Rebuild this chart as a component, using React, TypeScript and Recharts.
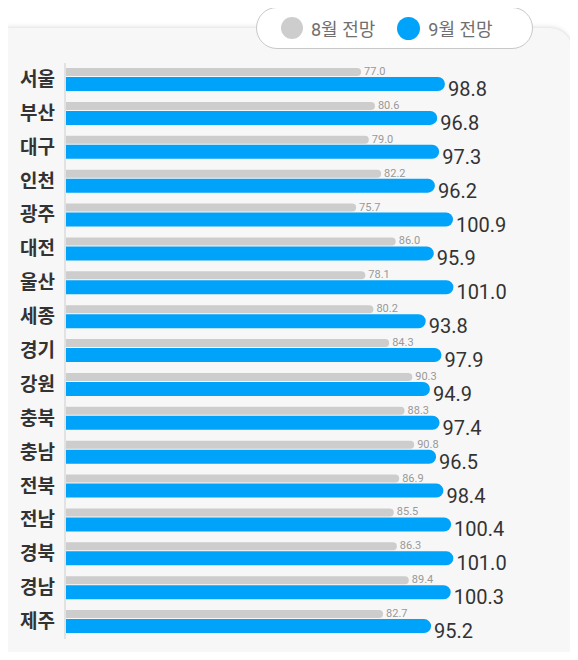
import { BarChart, Bar, XAxis, YAxis, LabelList } from 'recharts';

const regions = ['서울', '부산', '대구', '인천', '광주', '대전', '울산', '세종', '경기', '강원', '충북', '충남', '전북', '전남', '경북', '경남', '제주'];
const augustOutlook = [77.0, 80.6, 79.0, 82.2, 75.7, 86.0, 78.1, 80.2, 84.3, 90.3, 88.3, 90.8, 86.9, 85.5, 86.3, 89.4, 82.7];
const septemberOutlook = [98.8, 96.8, 97.3, 96.2, 100.9, 95.9, 101.0, 93.8, 97.9, 94.9, 97.4, 96.5, 98.4, 100.4, 101.0, 100.3, 95.2];

const GRAY = '#cdcdcd';
const BLUE = '#00a3fa';
const FONT = 'Roboto, "Noto Sans CJK KR", sans-serif';

const data = regions.map((name, i) => ({
  name,
  aug: augustOutlook[i],
  sep: septemberOutlook[i],
}));

const AugLabel = (props: any) => {
  const { x, y, width, value } = props;
  return (
    <text x={x + width + 3} y={y + 7} fontSize={11} fill="#999" fontFamily={FONT}>
      {value.toFixed(1)}
    </text>
  );
};

const SepLabel = (props: any) => {
  const { x, y, width, value } = props;
  return (
    <text x={x + width + 3} y={y + 19} fontSize={20} fill="#333" fontFamily={FONT}>
      {value.toFixed(1)}
    </text>
  );
};

const RegionTick = (props: any) => {
  const { x, y, payload } = props;
  return (
    <text x={x - 2} y={y + 6} textAnchor="end" fontSize={19} fontWeight="bold" fill="#333" fontFamily={FONT}>
      {payload.value}
    </text>
  );
};

export default function App() {
  return (
    <div style={{ position: 'relative', width: 578, height: 660, margin: -8, background: '#fff', overflow: 'hidden' }}>
      {/* card */}
      <div
        style={{
          position: 'absolute',
          left: 6,
          top: 28,
          width: 566,
          height: 660,
          background: '#f7f7f7',
          borderTopRightRadius: 22,
          boxShadow: '0 -2px 4px rgba(0,0,0,0.08), 1px 0 3px rgba(0,0,0,0.06)',
        }}
      />
      {/* legend pill */}
      <div
        style={{
          position: 'absolute',
          left: 256,
          top: 7,
          width: 275,
          height: 40,
          background: '#fff',
          border: '1px solid #c8c8c8',
          borderRadius: 21,
          display: 'flex',
          alignItems: 'center',
          fontFamily: FONT,
          fontSize: 18,
          color: '#6f6f6f',
          zIndex: 2,
        }}
      >
        <span style={{ marginLeft: 24, width: 22, height: 22, borderRadius: 11, background: GRAY, display: 'inline-block' }} />
        <span style={{ marginLeft: 8 }}>8월 전망</span>
        <span style={{ marginLeft: 22, width: 23, height: 23, borderRadius: 12, background: BLUE, display: 'inline-block' }} />
        <span style={{ marginLeft: 8 }}>9월 전망</span>
      </div>
      <div style={{ position: 'absolute', left: 0, top: 0 }}>
        <BarChart
          width={578}
          height={660}
          data={data}
          layout="vertical"
          margin={{ top: 63, right: 90, bottom: 21, left: 0 }}
          barGap={1}
          barCategoryGap={5}
        >
          <XAxis type="number" domain={[0, 110]} allowDataOverflow hide />
          <YAxis
            type="category"
            dataKey="name"
            width={65}
            axisLine={{ stroke: '#e2e2e2', strokeWidth: 2 }}
            tickLine={false}
            tick={<RegionTick />}
          />
          <Bar dataKey="aug" fill={GRAY} barSize={8} radius={[0, 4, 4, 0]} isAnimationActive={false}>
            <LabelList dataKey="aug" content={<AugLabel />} />
          </Bar>
          <Bar dataKey="sep" fill={BLUE} barSize={14} radius={[0, 7, 7, 0]} isAnimationActive={false}>
            <LabelList dataKey="sep" content={<SepLabel />} />
          </Bar>
        </BarChart>
      </div>
    </div>
  );
}
